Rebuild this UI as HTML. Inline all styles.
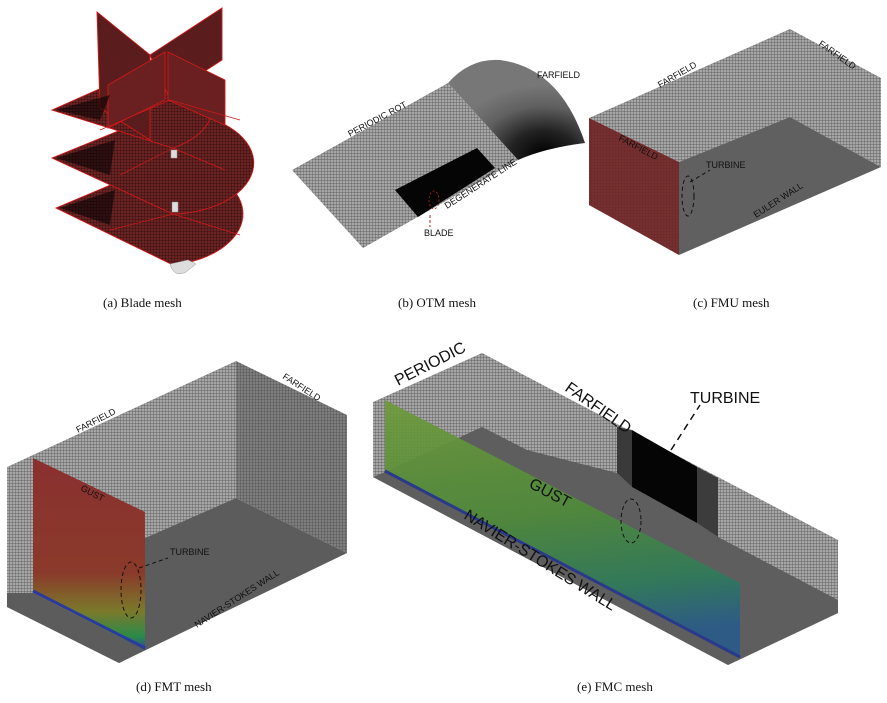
<!DOCTYPE html>
<html><head><meta charset="utf-8"><style>
html,body{margin:0;padding:0;background:#fff;}
svg{display:block}
.l{font-family:"Liberation Sans",sans-serif;fill:#111}
.c{font-family:"Liberation Serif",serif;font-size:13px;fill:#111}
</style></head><body>
<svg width="887" height="703" viewBox="0 0 887 703" xmlns="http://www.w3.org/2000/svg">
<defs>
<pattern id="g" width="3" height="3" patternUnits="userSpaceOnUse"><rect width="3" height="3" fill="#a6a6a6"/><path d="M0 0H3M0 0V3" stroke="#4e4e4e" stroke-width="0.7"/></pattern>
<pattern id="gd" width="3" height="3" patternUnits="userSpaceOnUse"><rect width="3" height="3" fill="#7e7e7e"/><path d="M0 0H3M0 0V3" stroke="#3a3a3a" stroke-width="0.6"/></pattern>
<pattern id="rg" width="3" height="3" patternUnits="userSpaceOnUse"><rect width="3" height="3" fill="#6a2424"/><path d="M0 0H3M0 0V3" stroke="#2a0808" stroke-width="0.7"/></pattern>
<radialGradient id="dome" cx="0.7" cy="0.95" r="0.7"><stop offset="0" stop-color="#000"/><stop offset="0.35" stop-color="#222"/><stop offset="0.7" stop-color="#606060"/><stop offset="1" stop-color="#777"/></radialGradient>
<linearGradient id="gr" x1="0" y1="0" x2="0.15" y2="1"><stop offset="0" stop-color="#6e9a3a"/><stop offset="0.5" stop-color="#4f8a3a"/><stop offset="0.8" stop-color="#2e7a5a"/><stop offset="1" stop-color="#2a5a8a"/></linearGradient>
<linearGradient id="rd" x1="0" y1="0" x2="0" y2="1"><stop offset="0" stop-color="#8a3030"/><stop offset="0.6" stop-color="#8a3a2a"/><stop offset="0.8" stop-color="#7a7a2a"/><stop offset="0.93" stop-color="#2a8a4a"/><stop offset="1" stop-color="#2a4a9a"/></linearGradient>
</defs>

<!-- (a) Blade mesh -->
<g stroke="#d01818" stroke-width="0.9" fill="url(#rg)">
<path d="M56,208 L165,162 A85,52 0 0 1 173,265 Z"/>
<path d="M52,158 L165,112 A83,50 0 0 1 173,214 Z"/>
<path d="M52,110 L160,62 A82,48 0 0 1 173,148 Z"/>
<polygon points="97,12 150,55 150,140 100,108" fill="#5a1c1c"/>
<polygon points="222,8 222,60 168,95 150,55" fill="#5a1c1c"/>
<polygon points="108,85 165,52 165,100 108,128" fill="#6a2020"/>
<polygon points="168,52 225,80 225,125 168,100" fill="#6a2020"/>
</g>
<g stroke="#d01818" stroke-width="0.7" fill="none">
<path d="M173,148 L120,175 M173,148 L225,170 M173,214 L110,230 M173,214 L240,235 M170,100 L100,130 M170,100 L240,120"/>
</g>
<g fill="#000" opacity="0.55">
<polygon points="56,110 110,95 100,120"/><polygon points="56,158 115,140 110,175"/><polygon points="60,208 115,190 110,225"/>
</g>
<path d="M171,150 h6 v8 h-6z M172,202 h6 v10 h-6z M170,264 q4,14 16,8 l10,-8 l-8,-4 z" fill="#ddd" stroke="#999" stroke-width="0.5"/>
<text class="c" x="103" y="307">(a) Blade mesh</text>

<!-- (b) OTM mesh -->
<path d="M448,83 Q470,58 500,60 Q560,68 585,143 Q545,148 518,160 Z" fill="url(#dome)"/>
<polygon points="292,170 448,83 518,160 363,248" fill="url(#g)"/>
<polygon points="395,190 477,148 495,168 418,217" fill="#050505"/>
<path d="M430,215 v12" stroke="#c02020" stroke-width="1" stroke-dasharray="3,2"/>
<ellipse cx="434" cy="200" rx="5" ry="9" fill="none" stroke="#c02020" stroke-width="0.8" stroke-dasharray="2,2"/>
<text class="l" font-size="9" transform="translate(350,137) rotate(-28)">PERIODIC ROT</text>
<text class="l" font-size="9" x="537" y="78">FARFIELD</text>
<text class="l" font-size="9" transform="translate(447,209) rotate(-33)">DEGENERATE LINE</text>
<text class="l" font-size="9" x="424" y="236">BLADE</text>
<text class="c" x="398" y="307">(b) OTM mesh</text>

<!-- (c) FMU mesh -->
<polygon points="589,118 790,29 790,117 679,162" fill="url(#g)"/>
<polygon points="790,29 881,78 881,167 790,117" fill="url(#g)"/>
<polygon points="679,162 790,117 881,167 679,255" fill="#606060"/>
<polygon points="589,118 679,162 679,255 589,205" fill="#7a3232"/>
<polygon points="589,118 679,162 679,255 589,205" fill="url(#rg)" opacity="0.25"/>
<path d="M690,182 L710,170" stroke="#111" stroke-dasharray="4,3" fill="none"/>
<ellipse cx="688" cy="196" rx="6" ry="20" fill="none" stroke="#111" stroke-dasharray="4,3"/>
<text class="l" font-size="9" transform="translate(660,88) rotate(-30)">FARFIELD</text>
<text class="l" font-size="9" transform="translate(818,45) rotate(35)">FARFIELD</text>
<text class="l" font-size="9" transform="translate(618,140) rotate(28)">FARFIELD</text>
<text class="l" font-size="9" x="706" y="168">TURBINE</text>
<text class="l" font-size="9" transform="translate(756,218) rotate(-33)">EULER WALL</text>
<text class="c" x="693" y="307">(c) FMU mesh</text>

<!-- (d) FMT mesh -->
<polygon points="7,467 236,361 236,498 145,538 145,650 119,663 7,607" fill="url(#g)"/>
<polygon points="236,361 347,415 347,553 236,498" fill="url(#gd)"/>
<polygon points="145,538 236,498 347,553 119,663" fill="#5c5c5c"/>
<polygon points="7,593 33,593 145,650 119,663 7,607" fill="#5c5c5c"/>
<polygon points="33,458 145,512 145,650 33,593" fill="url(#rd)"/>
<path d="M33,591 L145,648" stroke="#2a3aa0" stroke-width="3"/>
<ellipse cx="131" cy="590" rx="10" ry="28" fill="none" stroke="#111" stroke-dasharray="4,3"/>
<path d="M139,568 L168,558" stroke="#111" stroke-dasharray="4,3"/>
<text class="l" font-size="9" transform="translate(78,433) rotate(-27)">FARFIELD</text>
<text class="l" font-size="9" transform="translate(282,378) rotate(33)">FARFIELD</text>
<text class="l" font-size="9" transform="translate(80,490) rotate(28)" fill="#4a1010">GUST</text>
<text class="l" font-size="9" x="170" y="555">TURBINE</text>
<text class="l" font-size="9" transform="translate(197,628) rotate(-33)">NAVIER-STOKES WALL</text>
<text class="c" x="136" y="691">(d) FMT mesh</text>

<!-- (e) FMC mesh -->
<polygon points="373,402 482,353 838,540 838,613 728,665 373,477" fill="url(#g)"/>
<polygon points="482,427 527,450 617,473 632,487 697,523 718,537 838,600 838,613 728,665 373,477 385,472" fill="#5e5e5e"/>
<polygon points="617,427 632,430 632,487 617,473" fill="#3a3a3a"/>
<polygon points="632,430 697,467 697,523 632,487" fill="#050505"/>
<polygon points="697,467 718,478 718,537 697,523" fill="#3c3c3c"/>
<polygon points="385,400 740,583 740,658 385,472" fill="url(#gr)" opacity="0.92"/>
<path d="M385,471 L740,657" stroke="#2a3a8a" stroke-width="3"/>
<ellipse cx="631" cy="521" rx="10" ry="22" fill="none" stroke="#111" stroke-dasharray="4,3"/>
<path d="M671,450 L700,405" stroke="#111" stroke-width="1.5" stroke-dasharray="7,5"/>
<text class="l" font-size="16" transform="translate(398,386) rotate(-27)">PERIODIC</text>
<text class="l" font-size="16" transform="translate(564,390) rotate(35)">FARFIELD</text>
<text class="l" font-size="16" x="690" y="403">TURBINE</text>
<text class="l" font-size="16" transform="translate(528,487) rotate(28)">GUST</text>
<text class="l" font-size="16" transform="translate(463,518) rotate(32)">NAVIER-STOKES WALL</text>
<text class="c" x="577" y="691">(e) FMC mesh</text>
</svg>
</body></html>
